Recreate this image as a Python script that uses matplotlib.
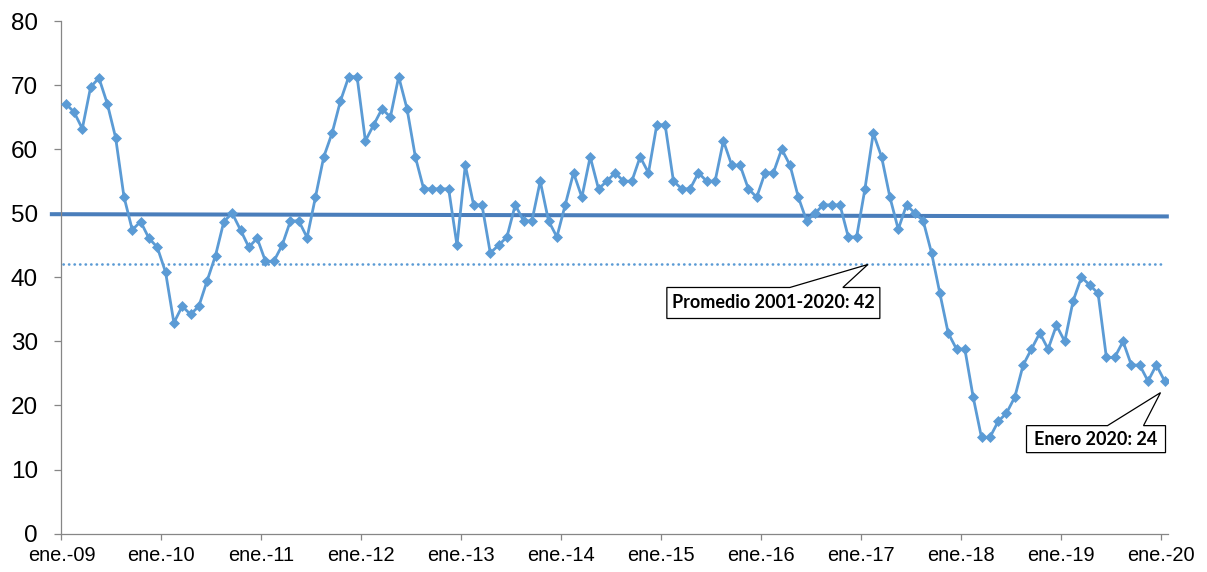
import matplotlib
matplotlib.use('Agg')
import matplotlib.pyplot as plt
import matplotlib.transforms as mtransforms
from matplotlib.patches import Polygon
import numpy as np

# monthly index, ene.-09 .. ene.-20
values2009 = [67.1, 65.8, 63.2, 69.7, 71.1, 67.1, 61.8, 52.6, 47.4, 48.7, 46.1, 44.7]
values2010 = [40.8, 32.9, 35.5, 34.2, 35.5, 39.5, 43.4, 48.7, 50.0, 47.4, 44.7, 46.1]
values2011 = [42.5, 42.5, 45.0, 48.8, 48.8, 46.2, 52.5, 58.8, 62.5, 67.5, 71.3, 71.3]
values2012 = [61.3, 63.8, 66.3, 65.0, 71.3, 66.3, 58.8, 53.8, 53.8, 53.8, 53.8, 45.0]
values2013 = [57.5, 51.3, 51.3, 43.8, 45.0, 46.3, 51.3, 48.8, 48.8, 55.0, 48.8, 46.3]
values2014 = [51.3, 56.3, 52.5, 58.8, 53.8, 55.0, 56.3, 55.0, 55.0, 58.8, 56.3, 63.8]
values2015 = [63.8, 55.0, 53.8, 53.8, 56.3, 55.0, 55.0, 61.3, 57.5, 57.5, 53.8, 52.5]
values2016 = [56.3, 56.3, 60.0, 57.5, 52.5, 48.8, 50.0, 51.3, 51.3, 51.3, 46.3, 46.3]
values2017 = [53.8, 62.5, 58.8, 52.5, 47.5, 51.3, 50.0, 48.8, 43.8, 37.5, 31.3, 28.8]
values2018 = [28.8, 21.3, 15.0, 15.0, 17.5, 18.8, 21.3, 26.3, 28.8, 31.3, 28.8, 32.5]
values2019 = [30.0, 36.3, 40.0, 38.8, 37.5, 27.5, 27.5, 30.0, 26.3, 26.3, 23.8, 26.3]
values2020 = [23.8]

years = ['09', '10', '11', '12', '13', '14', '15', '16', '17', '18', '19', '20']
tickLabels = ['ene.-' + y for y in years]

average = 42
averageLabel = 'Promedio 2001-2020: 42'
lastLabel = 'Enero 2020: 24'
neutralLevel = (49.85, 49.5)

values = (values2009 + values2010 + values2011 + values2012 + values2013 + values2014
          + values2015 + values2016 + values2017 + values2018 + values2019 + values2020)


def callout(ax, tipX, tipY, text, box, base):
    # box and base are pixel offsets from the tip (y up)
    left, right, top, bottom = box
    baseLeft, baseRight = base
    trans = mtransforms.Affine2D() + mtransforms.ScaledTranslation(tipX, tipY, ax.transData)
    verts = [(left, top), (baseLeft, top), (0, 0), (baseRight, top), (right, top),
             (right, bottom), (left, bottom)]
    ax.add_patch(Polygon(verts, closed=True, facecolor='white', edgecolor='black',
                         linewidth=0.9, transform=trans, clip_on=False, zorder=5))
    cx = (left + right) / 2 * 0.72
    cy = (top + bottom) / 2 * 0.72
    ax.annotate(text, xy=(tipX, tipY), xytext=(cx, cy), textcoords='offset points',
                ha='center', va='center', fontsize=13, fontweight='bold',
                family='Lato', zorder=6, annotation_clip=False)


plt.rcParams['font.family'] = ['Liberation Sans', 'DejaVu Sans']

fig = plt.figure(figsize=(12.07, 5.72), dpi=100)
ax = fig.add_axes([0.05095, 0.06713, 0.91674, 0.89615])

x = np.arange(len(values)) + 0.5
nMonths = len(values) - 1

ax.plot([-1.4, nMonths + 1.0], neutralLevel, color='#4a7ebb', linewidth=2.9,
        solid_capstyle='butt', clip_on=False, zorder=2)
ax.plot([0.2, nMonths], [average, average], color='#5b9bd5', linewidth=1.9,
        linestyle=(0, (0.1, 2.0)), dash_capstyle='round', zorder=2)
ax.plot(x, values, color='#5b9bd5', linewidth=2.0, marker='D', markersize=5.0,
        markeredgewidth=0.5, zorder=3)

callout(ax, 96.85, average, averageLabel, (-201, 12, -23, -54), (-78, -25))
callout(ax, 132.0, 22.0, lastLabel, (-134, 5, -33, -60), (-53, -17))

ax.set_xlim(0, 132.9)
ax.set_ylim(0, 80)
ax.set_xticks(np.arange(0, 133, 12))
ax.set_xticklabels(tickLabels)
ax.set_yticks(np.arange(0, 81, 10))

for side in ['top', 'right']:
    ax.spines[side].set_visible(False)
for side in ['left', 'bottom']:
    ax.spines[side].set_color('#868686')
    ax.spines[side].set_linewidth(0.9)

ax.tick_params(axis='y', direction='out', length=5.4, width=0.9, color='#868686',
               pad=11.5, labelsize=17.5)
ax.tick_params(axis='x', direction='out', length=4.5, width=0.9, color='#868686',
               pad=4.5, labelsize=14.4)

fig.savefig('out.png', dpi=100)
